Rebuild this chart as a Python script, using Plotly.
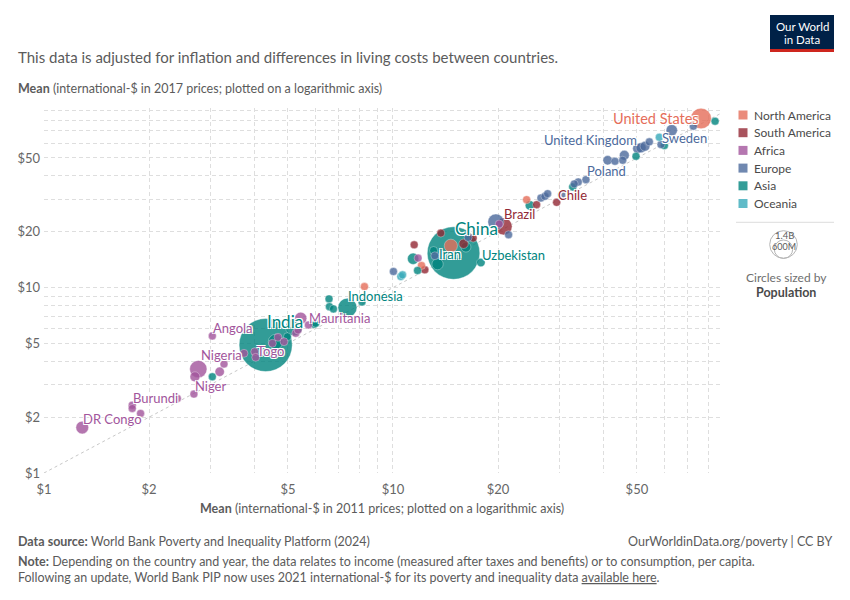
import numpy as np
import plotly.graph_objects as go

# ---------------- DATA ----------------
# x: mean (international-$ 2011 prices), y: mean (international-$ 2017 prices), pop in millions
africa_names = ["DR Congo", "Burundi", "", "", "", "Niger", "Nigeria", "", "", "", "Angola", "", "",
                "Togo", "", "", "", "", "", "", "Mauritania", "", ""]
africa_x2011 = [1.287, 1.790, 1.790, 1.891, 2.410, 2.689, 2.768, 2.707, 3.187, 3.279, 3.036, 3.741, 4.016,
                4.043, 4.683, 4.512, 4.872, 5.265, 5.345, 5.440, 5.723, 11.80, 20.15]
africa_y2017 = [1.759, 2.323, 2.229, 2.095, 2.525, 2.664, 3.636, 3.304, 3.515, 3.869, 5.482, 4.420, 4.509,
                4.205, 5.395, 5.006, 5.107, 5.669, 5.906, 6.832, 6.287, 14.42, 22.01]
africa_pop = [81, 13, 10, 8, 2, 25, 150, 49, 44, 8, 30, 10, 8, 8, 8, 8, 8, 8, 8, 74, 5, 5, 8]

asia_names = ["India", "", "", "", "", "", "", "", "", "", "Indonesia", "", "", "", "", "Iran", "China",
              "", "Uzbekistan", "", "", "", "", ""]
asia_x2011 = [4.317, 4.612, 5.205, 3.036, 4.984, 5.939, 6.006, 6.557, 6.575, 6.751, 7.405, 8.152, 11.76,
              11.42, 13.07, 13.42, 14.91, 16.18, 17.86, 24.68, 32.72, 49.70, 59.92, 83.73]
asia_y2017 = [4.900, 5.107, 6.108, 3.304, 5.435, 6.342, 6.421, 8.688, 7.893, 7.670, 7.796, 8.368, 12.36,
              14.30, 15.85, 13.38, 15.35, 16.54, 13.65, 27.75, 34.89, 51.07, 58.34, 78.93]
asia_pop = [1410, 110, 144, 10, 10, 25, 10, 20, 10, 10, 180, 8, 8, 64, 8, 64, 1380, 50, 36, 44, 20, 10, 20, 8]

europe_names = ["", "", "", "", "", "", "", "", "", "", "", "Poland", "", "", "", "", "United Kingdom",
                "", "", "", "Sweden", "", "", ""]
europe_x2011 = [10.03, 13.18, 16.42, 19.72, 21.44, 26.54, 27.25, 27.74, 30.42, 33.06, 33.95, 35.72, 41.22,
                43.26, 46.01, 45.52, 50.25, 51.36, 52.73, 54.27, 58.61, 62.91, 72.55, 86.12]
europe_y2017 = [12.21, 14.84, 18.63, 22.57, 19.27, 30.42, 31.04, 32.10, 31.70, 36.23, 37.13, 38.20, 48.60,
                47.99, 51.71, 48.60, 56.20, 56.69, 57.83, 61.08, 59.07, 70.58, 74.19, 93.97]
europe_pop = [8, 8, 8, 130, 10, 8, 8, 8, 5, 8, 10, 30, 44, 8, 48, 8, 50, 50, 48, 10, 20, 64, 8, 5]

namerica_names = ["", "", "", "", "United States"]
namerica_x2011 = [8.283, 12.07, 14.65, 24.15, 76.32]
namerica_y2017 = [10.12, 13.15, 16.80, 29.79, 81.64]
namerica_pop = [8, 12, 88, 5, 213]

samerica_names = ["", "", "", "", "", "Brazil", "", "Chile"]
samerica_x2011 = [11.50, 12.34, 13.71, 15.93, 16.97, 20.75, 25.79, 29.44]
samerica_y2017 = [17.01, 12.46, 19.68, 17.23, 18.49, 21.37, 27.99, 28.81]
samerica_pop = [8, 20, 10, 44, 20, 144, 10, 20]

oceania_names = ["", "", ""]
oceania_x2011 = [10.53, 10.65, 57.96]
oceania_y2017 = [11.47, 11.71, 64.70]
oceania_pop = [8, 8, 12]

regions = ["North America", "South America", "Africa", "Europe", "Asia", "Oceania"]
axis_tick_values = [1, 2, 3, 4, 5, 6, 7, 8, 9, 10, 20, 30, 40, 50, 60, 70, 80, 90]
axis_tick_labels = ["$1", "$2", "", "", "$5", "", "", "", "", "$10", "$20", "", "", "$50", "", "", "", ""]
axis_max_x = 86.5
axis_max_y = 93.0
legend_sizes = ["1.4B", "600M"]

# ---------------- STYLE ----------------
COLORS = {"North America": "#e56e5a", "South America": "#932834", "Africa": "#a2559c",
          "Europe": "#4c6a9c", "Asia": "#00847e", "Oceania": "#38aaba"}
FONT = "Lato, 'Open Sans', sans-serif"
W, H = 850, 600
L, R, T, B = 44, 130, 108, 127
PW, PH = W - L - R, H - T - B


def pxx(x):
    return (x - L) / PW


def pxy(y):
    return (H - B - y) / PH


region_data = {
    "Africa": (africa_names, africa_x2011, africa_y2017, africa_pop),
    "Asia": (asia_names, asia_x2011, asia_y2017, asia_pop),
    "Europe": (europe_names, europe_x2011, europe_y2017, europe_pop),
    "North America": (namerica_names, namerica_x2011, namerica_y2017, namerica_pop),
    "South America": (samerica_names, samerica_x2011, samerica_y2017, samerica_pop),
    "Oceania": (oceania_names, oceania_x2011, oceania_y2017, oceania_pop),
}

rows = []
for reg, (nm, xs, ys, ps) in region_data.items():
    for n, x, y, p in zip(nm, xs, ys, ps):
        rows.append((p, x, y, COLORS[reg], n))
rows.sort(key=lambda r: -r[0])  # big circles first, small ones on top

fig = go.Figure()
# y = x reference line
fig.add_trace(go.Scatter(x=[1, axis_max_x], y=[1, axis_max_x], mode="lines",
                         line=dict(color="#c8c8c8", width=1, dash="dot"),
                         hoverinfo="skip", showlegend=False, cliponaxis=True))
fig.add_trace(go.Scatter(
    x=[r[1] for r in rows], y=[r[2] for r in rows], mode="markers",
    text=[r[4] for r in rows],
    marker=dict(size=[r[0] for r in rows], sizemode="area", sizeref=1.0, sizemin=4,
                color=[r[3] for r in rows], opacity=0.8,
                line=dict(color="white", width=0.4)),
    showlegend=False, cliponaxis=False))

# ---------------- LABELS ----------------
label_style = {
    "United States": ("right", 0, 0, 14.5),
    "Sweden": ("left", -1, 7, 13),
    "United Kingdom": ("right", 1, 9, 13),
    "Poland": ("left", -1, 9, 13),
    "Chile": ("left", -1, 7, 13),
    "Brazil": ("left", -2, 12, 13),
    "China": ("left", -1, 25, 17),
    "Iran": ("left", -1, 10, 13),
    "Uzbekistan": ("left", -1, 8, 13),
    "Indonesia": ("left", -1, 12, 13),
    "Mauritania": ("left", -1, 7, 13),
    "India": ("left", -1, 24, 17),
    "Togo": ("left", -1, 6, 13),
    "Angola": ("left", -1, 8, 13),
    "Nigeria": ("left", 1, 14, 13),
    "Niger": ("left", -1, 8, 13),
    "Burundi": ("left", -1, 7, 13),
    "DR Congo": ("left", -1, 9, 13),
}
halo = "-1px -1px 0 #fff, 1px -1px 0 #fff, -1px 1px 0 #fff, 1px 1px 0 #fff"
anns = []
for reg, (nm, xs, ys, ps) in region_data.items():
    for n, x, y in zip(nm, xs, ys):
        if n in label_style:
            xa, xs_, ys_, fs = label_style[n]
            anns.append(dict(x=np.log10(x), y=np.log10(y), xref="x", yref="y", text=n,
                             showarrow=False, xanchor=xa, yanchor="middle", xshift=xs_, yshift=ys_,
                             font=dict(family=FONT, size=fs, color=COLORS[reg], shadow=halo)))


def text_ann(x, y, text, size=13, color="#5b5b5b", xanchor="left", yanchor="middle"):
    anns.append(dict(x=pxx(x), y=pxy(y), xref="paper", yref="paper", text=text, showarrow=False,
                     xanchor=xanchor, yanchor=yanchor, font=dict(family=FONT, size=size, color=color)))


text_ann(16, 57, "This data is adjusted for inflation and differences in living costs between countries.", 15)
text_ann(16, 88, "<b>Mean</b> (international-$ in 2017 prices; plotted on a logarithmic axis)", 12.5, "#5b5b5b")
text_ann((L + W - R) / 2, 508, "<b>Mean</b> (international-$ in 2011 prices; plotted on a logarithmic axis)",
         12.5, "#5b5b5b", xanchor="center")
text_ann(16, 541, "<b>Data source:</b> World Bank Poverty and Inequality Platform (2024)", 12.5)
text_ann(834, 541, "OurWorldinData.org/poverty | CC BY", 12.5, xanchor="right")
text_ann(16, 561, "<b>Note:</b> Depending on the country and year, the data relates to income (measured after "
         "taxes and benefits) or to consumption, per capita.", 12.5)
text_ann(16, 577, "Following an update, World Bank PIP now uses 2021 international-$ for its poverty and "
         "inequality data <u>available here</u>.", 12.5)

shapes = []
# logo
shapes.append(dict(type="rect", xref="paper", yref="paper", x0=pxx(770), x1=pxx(834), y0=pxy(49), y1=pxy(15),
                   fillcolor="#002147", line=dict(width=0), layer="above"))
shapes.append(dict(type="rect", xref="paper", yref="paper", x0=pxx(770), x1=pxx(834), y0=pxy(52), y1=pxy(49),
                   fillcolor="#ce261e", line=dict(width=0), layer="above"))
text_ann(802, 26.5, "Our World", 11.5, "white", xanchor="center")
text_ann(802, 39.5, "in Data", 11.5, "white", xanchor="center")

# region legend
for i, reg in enumerate(regions):
    yc = 115 + i * 17.7
    shapes.append(dict(type="rect", xref="paper", yref="paper", x0=pxx(738.5), x1=pxx(747.5),
                       y0=pxy(yc + 4.5), y1=pxy(yc - 4.5), fillcolor=COLORS[reg], opacity=0.8,
                       line=dict(width=0)))
    text_ann(752, yc, reg, 12, "#4a4a4a")
shapes.append(dict(type="line", xref="paper", yref="paper", x0=pxx(736), x1=pxx(834), y0=pxy(222.3),
                   y1=pxy(222.3), line=dict(color="#dddddd", width=1)))
# size legend
for (cy, rr) in [(244.5, 13.8), (249.2, 9.2)]:
    shapes.append(dict(type="circle", xref="paper", yref="paper", x0=pxx(783.5 - rr), x1=pxx(783.5 + rr),
                       y0=pxy(cy + rr), y1=pxy(cy - rr), line=dict(color="#b5b5b5", width=1)))
text_ann(784, 235, legend_sizes[0], 9.5, "#5b5b5b", xanchor="center")
text_ann(784, 246.5, legend_sizes[1], 9, "#5b5b5b", xanchor="center")
text_ann(786, 277, "Circles sized by", 12, "#6e6e6e", xanchor="center")
text_ann(786, 292, "<b>Population</b>", 12.5, "#4a4a4a", xanchor="center")

axis_common = dict(type="log", tickvals=axis_tick_values, ticktext=axis_tick_labels,
                   showgrid=True, gridcolor="#dedede", griddash="4px,3px", gridwidth=1,
                   zeroline=False, showline=False, ticks="",
                   tickfont=dict(family=FONT, size=13, color="#666666"))
fig.update_layout(
    width=W, height=H, margin=dict(l=L, r=R, t=T, b=B, autoexpand=False),
    paper_bgcolor="white", plot_bgcolor="white",
    xaxis=dict(range=[0, np.log10(axis_max_x)], ticklabelstandoff=7, **axis_common),
    yaxis=dict(range=[0, np.log10(axis_max_y)], ticklabelstandoff=3, **axis_common),
    annotations=anns, shapes=shapes, showlegend=False,
)
fig.write_html("out.html", config={"displayModeBar": False},
               post_script="document.body.style.margin='0';document.body.style.overflow='hidden';")
